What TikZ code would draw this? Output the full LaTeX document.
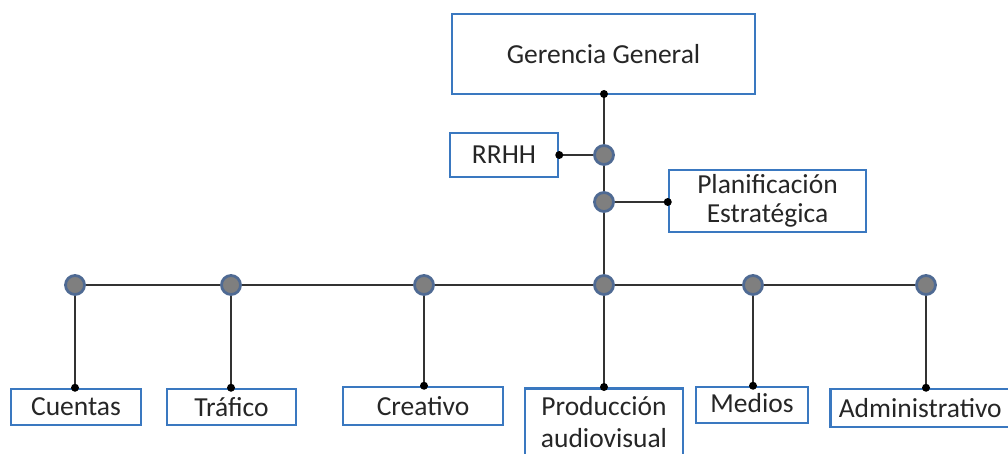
\documentclass[tikz,border=0pt]{standalone}
\usepackage{fontspec}
\setmainfont{Carlito}
\begin{document}
\begin{tikzpicture}[x=1pt,y=-1pt,
  unit/.style={draw=boxblue, line width=2.5pt, fill=white, inner sep=0pt,
    font=\fontsize{27.5}{32}\selectfont, text=black!85},
  hub/.style={circle, fill=hubgray, draw=hubblue, line width=2.8pt, inner sep=0pt, minimum size=19pt},
  tie/.style={circle, fill=black, inner sep=0pt, minimum size=8pt},
  link/.style={draw=black!80, line width=2.3pt}]
\definecolor{boxblue}{HTML}{3A78C0}
\definecolor{hubgray}{HTML}{7F7F7F}
\definecolor{hubblue}{HTML}{4F6A93}
\clip (0,0) rectangle (1008,454);
\fill[white] (0,0) rectangle (1008,454);

% top management and staff units
\node[unit, minimum width=303pt, minimum height=80pt] (gg) at (603.5,54) {Gerencia General};
\node[unit, minimum width=108pt, minimum height=44pt] (rrhh) at (504,155) {RRHH};
\node[unit, minimum width=197pt, minimum height=62pt, align=center] (plan) at (767.5,201)
  {Planificación\\[-3pt]Estratégica};

% departments
\node[unit, minimum width=130pt, minimum height=36pt] (cue) at (76,407) {Cuentas};
\node[unit, minimum width=129pt, minimum height=36pt] (tra) at (231.5,407) {Tráfico};
\node[unit, minimum width=160pt, minimum height=38pt] (cre) at (423,406) {Creativo};
\node[unit, minimum width=158pt, minimum height=76pt, align=center, anchor=north] (pro) at (604,387)
  {Producción\\[0pt]audiovisual\rule[-8pt]{0pt}{8pt}};
\node[unit, minimum width=112pt, minimum height=36pt, text depth=5pt] (med) at (752,405) {Medios};
\node[unit, minimum width=182pt, minimum height=38pt, anchor=west] (adm) at (829,408) {\hspace*{-2pt}Administrativo};

% junction points on the trunk and the branch line
\coordinate (ggb) at (604,94);
\coordinate (h1) at (604,155);
\coordinate (h2) at (604,202);
\coordinate (hc) at (75,285);
\coordinate (ht) at (231,285);
\coordinate (hr) at (424,285);
\coordinate (hp) at (604,285);
\coordinate (hm) at (753,285);
\coordinate (ha) at (926,285);

% connectors
\draw[link] (ggb) -- (hp);
\draw[link] (hc) -- (ha);
\draw[link] (h1) -- (rrhh.east);
\draw[link] (h2) -- (plan.west |- h2);
\draw[link] (hc) -- (hc |- cue.north);
\draw[link] (ht) -- (ht |- tra.north);
\draw[link] (hr) -- (hr |- cre.north);
\draw[link] (hp) -- (hp |- pro.north);
\draw[link] (hm) -- (hm |- med.north);
\draw[link] (ha) -- (ha |- adm.north);

% small end dots
\node[tie] at (ggb) {};
\node[tie] at (rrhh.east) {};
\node[tie] at (plan.west |- h2) {};
\node[tie] at (hc |- cue.north) {};
\node[tie] at (ht |- tra.north) {};
\node[tie] at (hr |- cre.north) {};
\node[tie] at (hp |- pro.north) {};
\node[tie] at (hm |- med.north) {};
\node[tie] at (ha |- adm.north) {};

% hubs
\foreach \h in {h1,h2,hc,ht,hr,hp,hm,ha} \node[hub] at (\h) {};
\end{tikzpicture}
\end{document}
